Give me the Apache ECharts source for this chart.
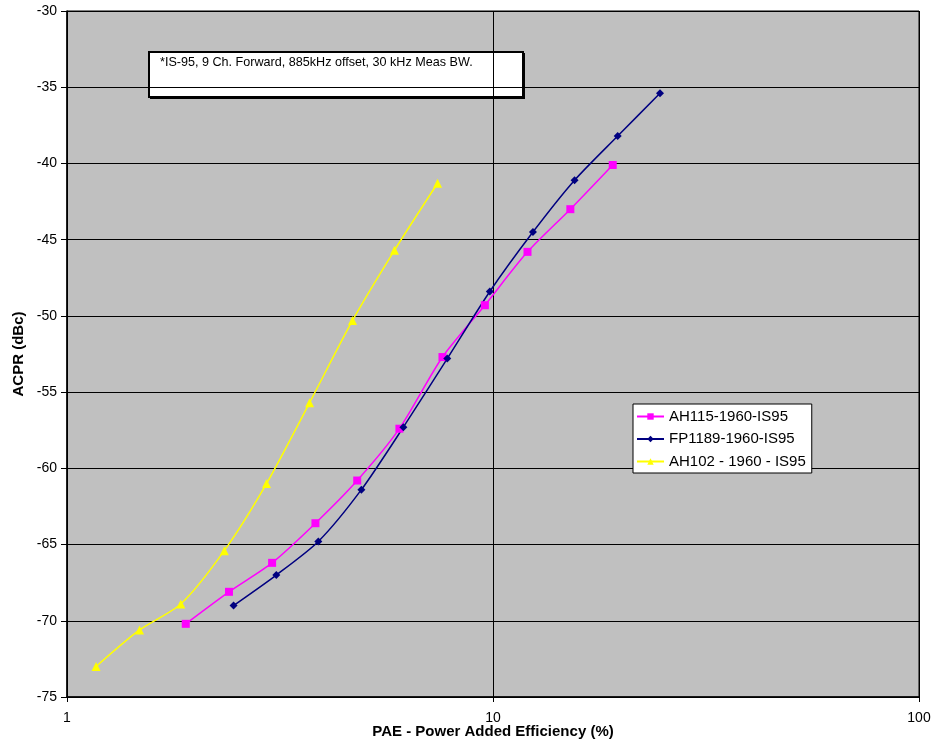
<!DOCTYPE html>
<html>
<head>
<meta charset="utf-8">
<script src="https://cdn.jsdelivr.net/npm/echarts@6/dist/echarts.min.js"></script>
<style>
  html, body { margin: 0; padding: 0; background: #fff; }
  #chart { width: 933px; height: 745px; }
</style>
</head>
<body>
<div id="chart"></div>
<script>
// PAE (%) and ACPR (dBc) for each amplifier
const ah115Pae  = [1.90, 2.40, 3.03, 3.83, 4.80, 6.03, 7.61, 9.57, 12.05, 15.19, 19.1];
const ah115Acpr = [-70.2, -68.1, -66.2, -63.6, -60.8, -57.4, -52.7, -49.3, -45.8, -43.0, -40.1];

const fp1189Pae  = [2.46, 3.10, 3.89, 4.91, 6.16, 7.81, 9.83, 12.41, 15.54, 19.62, 24.66];
const fp1189Acpr = [-69.0, -67.0, -64.8, -61.4, -57.3, -52.8, -48.4, -44.5, -41.1, -38.2, -35.4];

const ah102Pae  = [1.17, 1.48, 1.85, 2.34, 2.94, 3.71, 4.68, 5.87, 7.41];
const ah102Acpr = [-73.0, -70.6, -68.9, -65.4, -61.0, -55.7, -50.3, -45.7, -41.3];

const seriesNames = ['AH115-1960-IS95', 'FP1189-1960-IS95', 'AH102 - 1960 - IS95'];
const noteText = '*IS-95, 9 Ch. Forward, 885kHz offset, 30 kHz Meas BW.';

const pairs = (xs, ys) => xs.map((x, i) => [x, ys[i]]);

const FONT = '"Liberation Sans", Arial, sans-serif';
const chart = echarts.init(document.getElementById('chart'), null, { renderer: 'canvas' });

chart.setOption({
  backgroundColor: '#ffffff',
  animation: false,
  textStyle: { fontFamily: FONT },
  grid: {
    left: 67, right: 14, top: 11, bottom: 48,
    outerBoundsMode: 'none', containLabel: false,
    show: true, backgroundColor: '#c0c0c0', borderColor: '#000', borderWidth: 1
  },
  xAxis: {
    type: 'log', logBase: 10, min: 1, max: 100,
    name: 'PAE - Power Added Efficiency (%)',
    nameLocation: 'middle', nameGap: 27, nameMoveOverlap: false,
    nameTextStyle: { fontFamily: FONT, fontWeight: 'bold', fontSize: 15, color: '#000' },
    axisLine: { show: true, lineStyle: { color: '#000', width: 1.5 } },
    axisTick: { show: true, length: 5, lineStyle: { color: '#000' } },
    axisLabel: { fontFamily: FONT, fontSize: 14, color: '#000', margin: 14 },
    splitLine: { show: true, lineStyle: { color: '#000', width: 1 } },
    minorTick: { show: false }
  },
  yAxis: {
    type: 'value', min: -75, max: -30, interval: 5,
    name: 'ACPR (dBc)',
    nameLocation: 'middle', nameGap: 41, nameRotate: 90, nameMoveOverlap: false,
    nameTextStyle: { fontFamily: FONT, fontWeight: 'bold', fontSize: 15, color: '#000' },
    axisLine: { show: true, lineStyle: { color: '#000', width: 1.5 } },
    axisTick: { show: true, length: 6, lineStyle: { color: '#000' } },
    axisLabel: { fontFamily: FONT, fontSize: 14, color: '#000', margin: 10 },
    splitLine: { show: true, lineStyle: { color: '#000', width: 1 } }
  },
  legend: {
    orient: 'vertical',
    left: 633, top: 404,
    backgroundColor: '#ffffff',
    borderColor: '#000', borderWidth: 1,
    padding: [5, 6, 4, 3],
    itemGap: 7.5,
    itemWidth: 27, itemHeight: 8,
    textStyle: { fontFamily: FONT, fontSize: 15, color: '#000' },
    data: seriesNames
  },
  graphic: [{
    type: 'group', left: 148, top: 51,
    children: [
      { type: 'rect', shape: { x: 1, y: 1, width: 375, height: 46 }, style: { fill: '#000' } },
      { type: 'rect', shape: { x: 0, y: 0, width: 374, height: 45 },
        style: { fill: '#fff', stroke: '#000', lineWidth: 2 } },
      { type: 'text', x: 11, y: 4,
        style: { text: noteText, fill: '#000', font: '12.6px "Liberation Sans", Arial, sans-serif' } }
    ]
  }],
  series: [
    {
      name: seriesNames[0], type: 'line', smooth: 0.25,
      data: pairs(ah115Pae, ah115Acpr),
      symbol: 'rect', symbolSize: 8,
      itemStyle: { color: '#ff00ff' },
      lineStyle: { color: '#ff00ff', width: 1.5 }
    },
    {
      name: seriesNames[1], type: 'line', smooth: 0.25,
      data: pairs(fp1189Pae, fp1189Acpr),
      symbol: 'diamond', symbolSize: 8,
      itemStyle: { color: '#000080' },
      lineStyle: { color: '#000080', width: 1.5 }
    },
    {
      name: seriesNames[2], type: 'line', smooth: 0.25,
      data: pairs(ah102Pae, ah102Acpr),
      symbol: 'triangle', symbolSize: 9,
      itemStyle: { color: '#ffff00' },
      lineStyle: { color: '#ffff00', width: 1.5 }
    }
  ]
});
</script>
</body>
</html>
